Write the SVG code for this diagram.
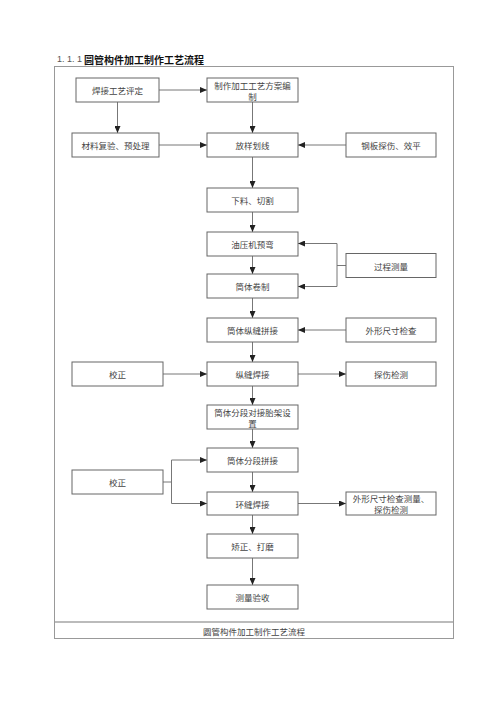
<svg xmlns="http://www.w3.org/2000/svg" width="496" height="702" viewBox="0 0 496 702">
<defs>
<style>
.box{fill:#fff;stroke:#666;stroke-width:1}
.t{font-family:"Noto Sans CJK SC","Noto Sans",sans-serif;font-size:8.5px;fill:#444;text-anchor:middle;dominant-baseline:central}
.c{fill:none;stroke:#777;stroke-width:1}
</style>
<marker id="ah" markerUnits="userSpaceOnUse" markerWidth="8" markerHeight="6" refX="7" refY="3" orient="auto">
<path d="M0,0 L7,3 L0,6 Z" fill="#222"/>
</marker>
</defs>
<rect width="496" height="702" fill="#fff"/>
<text x="57" y="59" style="font-family:'Liberation Sans',sans-serif;font-size:9px;fill:#555;dominant-baseline:central">1. 1. 1</text>
<text x="84" y="59" style="font-family:'Noto Sans CJK SC',sans-serif;font-size:10px;font-weight:bold;fill:#111;dominant-baseline:central">圆管构件加工制作工艺流程</text>
<g id="frame">
<rect x="54.5" y="66.5" width="399" height="572" fill="none" stroke="#999" stroke-width="1"/>
<line x1="55" y1="622" x2="453" y2="622" stroke="#bbb" stroke-width="2"/>
<text class="t" x="254" y="630.5">圆管构件加工制作工艺流程</text>
</g>
<g id="connectors">
<line class="c" x1="159" y1="90" x2="207" y2="90" marker-end="url(#ah)"/>
<line class="c" x1="117.5" y1="102" x2="117.5" y2="133" marker-end="url(#ah)"/>
<line class="c" x1="252.5" y1="102" x2="252.5" y2="133" marker-end="url(#ah)"/>
<line class="c" x1="159" y1="145" x2="207" y2="145" marker-end="url(#ah)"/>
<line class="c" x1="346" y1="145" x2="298" y2="145" marker-end="url(#ah)"/>
<line class="c" x1="252.5" y1="157" x2="252.5" y2="188" marker-end="url(#ah)"/>
<line class="c" x1="252.5" y1="212" x2="252.5" y2="232" marker-end="url(#ah)"/>
<line class="c" x1="252.5" y1="256" x2="252.5" y2="274" marker-end="url(#ah)"/>
<line class="c" x1="346" y1="265.5" x2="337" y2="265.5"/>
<polyline class="c" points="337,243.5 337,286.5"/>
<line class="c" x1="337" y1="243.5" x2="298" y2="243.5" marker-end="url(#ah)"/>
<line class="c" x1="337" y1="286.5" x2="298" y2="286.5" marker-end="url(#ah)"/>
<line class="c" x1="252.5" y1="298" x2="252.5" y2="318" marker-end="url(#ah)"/>
<line class="c" x1="346" y1="330" x2="298" y2="330" marker-end="url(#ah)"/>
<line class="c" x1="252.5" y1="342" x2="252.5" y2="362" marker-end="url(#ah)"/>
<line class="c" x1="163" y1="374" x2="207" y2="374" marker-end="url(#ah)"/>
<line class="c" x1="298" y1="374" x2="346" y2="374" marker-end="url(#ah)"/>
<line class="c" x1="252.5" y1="386" x2="252.5" y2="405" marker-end="url(#ah)"/>
<line class="c" x1="252.5" y1="429" x2="252.5" y2="448" marker-end="url(#ah)"/>
<line class="c" x1="252.5" y1="472" x2="252.5" y2="492" marker-end="url(#ah)"/>
<line class="c" x1="163" y1="482" x2="171.5" y2="482"/>
<polyline class="c" points="171.5,460 171.5,503.5"/>
<line class="c" x1="171.5" y1="460" x2="207" y2="460" marker-end="url(#ah)"/>
<line class="c" x1="171.5" y1="503.5" x2="207" y2="503.5" marker-end="url(#ah)"/>
<line class="c" x1="298" y1="503.5" x2="346" y2="503.5" marker-end="url(#ah)"/>
<line class="c" x1="252.5" y1="515" x2="252.5" y2="534" marker-end="url(#ah)"/>
<line class="c" x1="252.5" y1="558" x2="252.5" y2="585" marker-end="url(#ah)"/>
</g>
<g id="n1"><rect class="box" x="76" y="78" width="83" height="24"/><text class="t" x="117.5" y="90">焊接工艺评定</text></g>
<g id="n2"><rect class="box" x="207" y="78" width="91" height="24"/><text class="t" x="252.5" y="85">制作加工工艺方案编</text><text class="t" x="252.5" y="96">制</text></g>
<g id="n3"><rect class="box" x="72" y="133" width="87" height="24"/><text class="t" x="115.5" y="145">材料复验、预处理</text></g>
<g id="n4"><rect class="box" x="207" y="133" width="91" height="24"/><text class="t" x="252.5" y="145">放样划线</text></g>
<g id="n5"><rect class="box" x="346" y="133" width="90" height="24"/><text class="t" x="391" y="145">钢板探伤、效平</text></g>
<g id="n6"><rect class="box" x="207" y="188" width="91" height="24"/><text class="t" x="252.5" y="200">下料、切割</text></g>
<g id="n7"><rect class="box" x="207" y="232" width="91" height="24"/><text class="t" x="252.5" y="244">油压机预弯</text></g>
<g id="n8"><rect class="box" x="346" y="253.5" width="90" height="24"/><text class="t" x="391" y="265.5">过程测量</text></g>
<g id="n9"><rect class="box" x="207" y="274" width="91" height="24"/><text class="t" x="252.5" y="286">筒体卷制</text></g>
<g id="n10"><rect class="box" x="207" y="318" width="91" height="24"/><text class="t" x="252.5" y="330">筒体纵缝拼接</text></g>
<g id="n11"><rect class="box" x="346" y="318" width="90" height="24"/><text class="t" x="391" y="330">外形尺寸检查</text></g>
<g id="n12"><rect class="box" x="72" y="362" width="91" height="24"/><text class="t" x="117.5" y="374">校正</text></g>
<g id="n13"><rect class="box" x="207" y="362" width="91" height="24"/><text class="t" x="252.5" y="374">纵缝焊接</text></g>
<g id="n14"><rect class="box" x="346" y="362" width="90" height="24"/><text class="t" x="391" y="374">探伤检测</text></g>
<g id="n15"><rect class="box" x="207" y="405" width="91" height="24"/><text class="t" x="252.5" y="411.5">筒体分段对接胎架设</text><text class="t" x="252.5" y="422.5">置</text></g>
<g id="n16"><rect class="box" x="207" y="448" width="91" height="24"/><text class="t" x="252.5" y="460">筒体分段拼接</text></g>
<g id="n17"><rect class="box" x="72" y="470" width="91" height="24"/><text class="t" x="117.5" y="482">校正</text></g>
<g id="n18"><rect class="box" x="207" y="492" width="91" height="23"/><text class="t" x="252.5" y="503.5">环缝焊接</text></g>
<g id="n19"><rect class="box" x="346" y="492" width="90" height="23"/><text class="t" x="391" y="498">外形尺寸检查测量、</text><text class="t" x="391" y="509">探伤检测</text></g>
<g id="n20"><rect class="box" x="207" y="534" width="91" height="24"/><text class="t" x="252.5" y="546">矫正、打磨</text></g>
<g id="n21"><rect class="box" x="207" y="585" width="91" height="24"/><text class="t" x="252.5" y="597">测量验收</text></g>
</svg>
